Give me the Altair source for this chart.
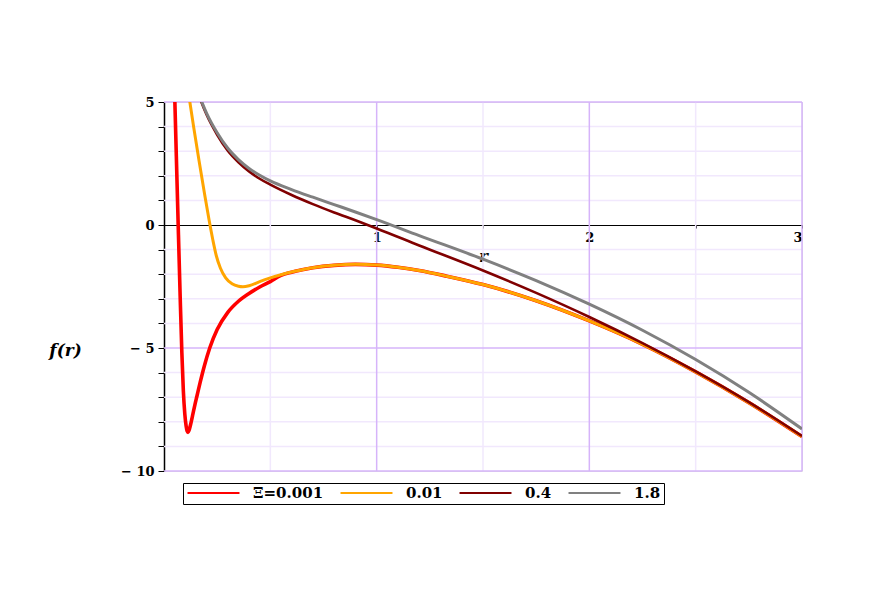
import altair as alt
import pandas as pd

# ---- data ----
series_labels = ["Ξ=0.001", "0.01", "0.4", "1.8"]
series_colors = ["#ff0000", "#ffa500", "#800000", "#808080"]
series_widths = [3.6, 3.0, 2.6, 3.0]

r_red = [0.048, 0.058, 0.068, 0.076, 0.084, 0.091, 0.098, 0.104, 0.109, 0.113, 0.118, 0.128,
         0.136, 0.145, 0.155, 0.17, 0.19, 0.215, 0.25, 0.30, 0.35, 0.40, 0.45, 0.50, 0.55,
         0.60, 0.65, 0.70, 0.80, 0.90, 1.0, 1.1, 1.2, 1.33, 1.5, 1.75, 2.0, 2.25, 2.5, 2.75, 3.0]
f_red = [6.0, 2.8, -0.4, -2.9, -5.2, -6.75, -7.7, -8.17, -8.38, -8.43, -8.34, -8.0,
         -7.68, -7.32, -6.95, -6.40, -5.72, -5.00, -4.25, -3.55, -3.10, -2.78, -2.52, -2.30, -2.05,
         -1.92, -1.82, -1.74, -1.64, -1.60, -1.63, -1.72, -1.85, -2.08, -2.42, -3.08, -3.90,
         -4.85, -5.97, -7.22, -8.60]

r_orange = [0.105, 0.118, 0.14, 0.165, 0.19, 0.212, 0.23, 0.246, 0.265, 0.29, 0.32, 0.35,
            0.371, 0.40, 0.45, 0.50, 0.55, 0.60, 0.65, 0.70, 0.80, 0.90, 1.0, 1.1, 1.2, 1.33,
            1.5, 1.75, 2.0, 2.25, 2.5, 2.75, 3.0]
f_orange = [6.0, 5.2, 3.95, 2.6, 1.3, 0.2, -0.62, -1.25, -1.75, -2.15, -2.39, -2.49,
            -2.51, -2.47, -2.30, -2.15, -2.02, -1.91, -1.82, -1.74, -1.64, -1.60, -1.63, -1.72,
            -1.85, -2.08, -2.42, -3.08, -3.90, -4.85, -5.97, -7.22, -8.60]

r_dred = [0.15, 0.168, 0.2, 0.25, 0.3, 0.35, 0.4, 0.45, 0.5, 0.6, 0.7, 0.8, 0.9, 1.0, 1.2,
          1.5, 1.75, 2.0, 2.25, 2.5, 2.75, 3.0]
f_dred = [5.6, 5.17, 4.49, 3.67, 3.02, 2.55, 2.18, 1.88, 1.64, 1.22, 0.85, 0.51, 0.19, -0.14,
          -0.83, -1.85, -2.76, -3.74, -4.80, -5.95, -7.20, -8.58]

r_grey = [0.15, 0.168, 0.2, 0.25, 0.3, 0.35, 0.4, 0.45, 0.5, 0.6, 0.7, 0.8, 0.9, 1.0, 1.2,
          1.5, 1.75, 2.0, 2.25, 2.5, 2.75, 3.0]
f_grey = [5.65, 5.22, 4.55, 3.75, 3.12, 2.66, 2.30, 2.02, 1.79, 1.44, 1.13, 0.83, 0.53, 0.22,
          -0.43, -1.39, -2.26, -3.22, -4.28, -5.47, -6.80, -8.29]

x_major_grid = [1, 2, 3]
x_minor_grid = [0.5, 1.5, 2.5]
y_major_grid = [5, -5, -10]
y_minor_grid = [4, 3, 2, 1, -1, -2, -3, -4, -6, -7, -8, -9]
x_ticks = [0.5, 1, 1.5, 2, 2.5, 3]
y_ticks = list(range(-10, 6))

rows = []
for lab, rs, fs in zip(series_labels, [r_red, r_orange, r_dred, r_grey],
                       [f_red, f_orange, f_dred, f_grey]):
    for r, f in zip(rs, fs):
        rows.append({"r": r, "f": f, "series": lab})
df = pd.DataFrame(rows)

FONT = "DejaVu Serif"
xscale = alt.Scale(domain=[0, 3], nice=False, zero=False)
yscale = alt.Scale(domain=[-10, 5], nice=False, zero=False)

x_axis = alt.Axis(values=x_ticks, offset=-246, grid=False, domainColor="black",
                  domainWidth=1.2, tickColor="black", tickSize=3,
                  labelExpr="datum.value % 1 == 0 ? datum.value : ''",
                  labelFont=FONT, labelFontWeight="bold", labelFontSize=13,
                  labelColor="black", labelPadding=3,
                  title="r", titleFont=FONT, titleFontStyle="italic",
                  titleFontWeight="bold", titleFontSize=17, titleColor="black",
                  titleX=319, titleY=31, titleBaseline="middle", titleAlign="center")
y_axis = alt.Axis(values=y_ticks, grid=False, domainColor="black",
                  domainWidth=1.5, tickColor="black", tickSize=6,
                  labelExpr="datum.value % 5 == 0 ? (datum.value < 0 ? '\u2212 ' + abs(datum.value) : datum.value) : ''",
                  labelFont=FONT, labelFontWeight="bold", labelFontSize=13,
                  labelColor="black", labelPadding=4,
                  title="f(r)", titleFont=FONT, titleFontStyle="italic",
                  titleFontWeight="bold", titleFontSize=17, titleColor="black",
                  titleAngle=0, titleX=-99, titleY=248, titleAlign="center",
                  titleBaseline="middle")

MAJOR = "#d6b4fa"
MINOR = "#f1e8fd"

def vgrid(vals, col):
    return alt.Chart(pd.DataFrame({"r": vals})).mark_rule(color=col, strokeWidth=1.5).encode(
        x=alt.X("r:Q", scale=xscale, axis=x_axis))

def hgrid(vals, col):
    return alt.Chart(pd.DataFrame({"f": vals})).mark_rule(color=col, strokeWidth=1.5).encode(
        y=alt.Y("f:Q", scale=yscale, axis=y_axis))

color_enc = alt.Color("series:N",
                      scale=alt.Scale(domain=series_labels, range=series_colors),
                      legend=alt.Legend(title=None, orient="none", legendX=19, legendY=381,
                                        direction="horizontal", columns=4,
                                        symbolType="stroke", symbolSize=2700,
                                        symbolStrokeWidth=2.2, clipHeight=14,
                                        labelFont=FONT, labelFontWeight="bold",
                                        labelFontSize=15, labelColor="black",
                                        labelOffset=12, columnPadding=15, padding=3,
                                        strokeColor="black", fillColor="white",
                                        labelLimit=200))

def curve(lab, width):
    return alt.Chart(df[df["series"] == lab]).mark_line(
        interpolate="monotone", clip=True, strokeWidth=width).encode(
        x=alt.X("r:Q", scale=xscale, axis=x_axis),
        y=alt.Y("f:Q", scale=yscale, axis=y_axis),
        color=color_enc,
    )

lines = [curve(l, w) for l, w in zip(series_labels, series_widths)]

chart = alt.layer(vgrid(x_minor_grid, MINOR), hgrid(y_minor_grid, MINOR),
                  vgrid(x_major_grid, MAJOR), hgrid(y_major_grid, MAJOR), *lines).properties(
    width=638, height=369,
    autosize=alt.AutoSizeParams(type="none"),
    padding={"left": 156, "top": 94, "right": 62, "bottom": 128},
).configure_view(stroke=None).configure(background="white")

chart.save("out.html", embed_options={"renderer": "svg", "actions": False})
